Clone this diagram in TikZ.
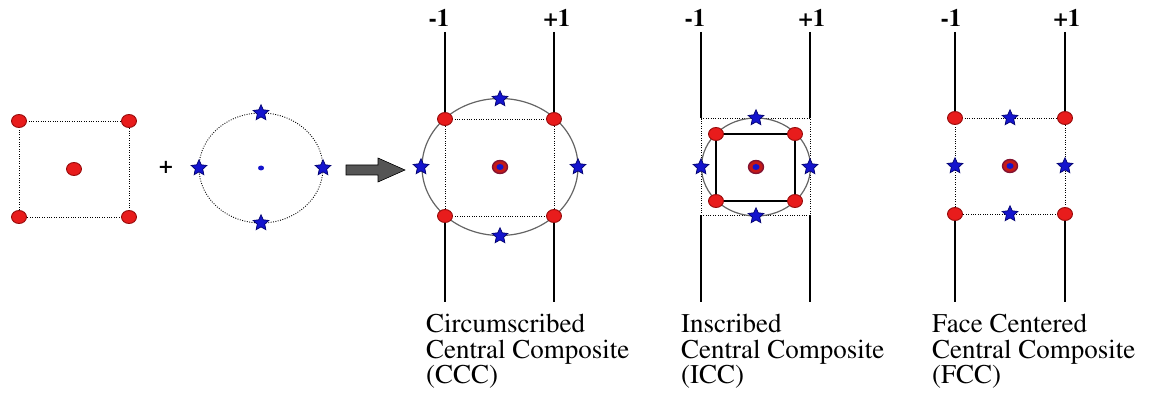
\documentclass[tikz,border=0pt]{standalone}
\usepackage[T1]{fontenc}
\usepackage{times}
\usetikzlibrary{shapes.geometric,backgrounds}

\definecolor{ptred}{RGB}{232,28,28}
\definecolor{ptredline}{RGB}{150,10,10}
\definecolor{ptblue}{RGB}{20,20,205}
\definecolor{ptblueline}{RGB}{0,0,110}
\definecolor{ptring}{RGB}{130,20,50}
\definecolor{arrowgray}{RGB}{85,85,85}
\definecolor{rimgray}{RGB}{100,100,100}

\tikzset{
  fpoint/.style={ellipse, fill=ptred, draw=ptredline, line width=0.9pt,
    minimum width=15pt, minimum height=13pt, inner sep=0pt},
  apoint/.style={star, star points=5, star point ratio=2.1, fill=ptblue,
    draw=ptblueline, line width=0.7pt, minimum size=16.5pt, inner sep=0pt},
  cpoint/.style={ellipse, fill=ptred!85!black, draw=ptring, line width=1.4pt,
    minimum width=15pt, minimum height=13pt, inner sep=0pt},
  ccore/.style={ellipse, fill=ptblue, minimum width=7pt, minimum height=6pt,
    inner sep=0pt},
  sdot/.style={ellipse, fill=ptblue, minimum width=6pt, minimum height=5pt,
    inner sep=0pt},
  level/.style={font=\fontsize{25}{25}\selectfont\bfseries, anchor=base,
    inner sep=0pt},
  caption/.style={font=\fontsize{27}{25.5}\selectfont, align=left,
    anchor=north west, inner sep=0pt},
  dotline/.style={line width=0.9pt, dash pattern=on 0.9pt off 1.5pt},
  axis/.style={line width=1.1pt},
  rim/.style={draw=rimgray, line width=1.2pt},
  frame/.style={line width=1.1pt},
}

\begin{document}
\begin{tikzpicture}[x=1pt, y=-1pt]
  \useasboundingbox (0,0) rectangle (1153,398);

  % ---------- factorial square ----------
  \node[fpoint] (sq-tl) at (19,121) {};
  \node[fpoint] (sq-tr) at (129,121) {};
  \node[fpoint] (sq-bl) at (19,217) {};
  \node[fpoint] (sq-br) at (129,217) {};
  \node[fpoint] (sq-c)  at (74,169) {};

  \node[font=\fontsize{24}{24}\selectfont\bfseries, inner sep=0pt] (plus) at (166,167) {+};

  % ---------- axial (star) points ----------
  \node[sdot]   (ax-c) at (261,168) {};
  \node[apoint] (ax-t) at (261,113) {};
  \node[apoint] (ax-b) at (261,223) {};
  \node[apoint] (ax-l) at (199,168) {};
  \node[apoint] (ax-r) at (323,168) {};

  % ---------- combining arrow ----------
  \filldraw[fill=arrowgray, draw=black, line width=0.6pt]
    (346,165) -- (378,165) -- (378,158) -- (405,170)
    -- (378,182) -- (378,175) -- (346,175) -- cycle;

  % ---------- CCC ----------
  \node[level] (ccc-m) at (439,27) {-1};
  \node[level] (ccc-p) at (557,27) {+1};
  \coordinate (ccc-top-l) at (445,32);
  \coordinate (ccc-top-r) at (554,32);
  \coordinate (ccc-bot-l) at (445,302);
  \coordinate (ccc-bot-r) at (554,302);
  \node[fpoint] (ccc-tl) at (445,119) {};
  \node[fpoint] (ccc-tr) at (554,119) {};
  \node[fpoint] (ccc-bl) at (445,216) {};
  \node[fpoint] (ccc-br) at (554,216) {};
  \node[apoint] (ccc-st) at (500,99) {};
  \node[apoint] (ccc-sb) at (500,236) {};
  \node[apoint] (ccc-sl) at (421,167) {};
  \node[apoint] (ccc-sr) at (578,167) {};
  \node[cpoint] (ccc-c) at (500,167) {};
  \node[ccore]  (ccc-cc) at (ccc-c) {};
  \node[caption] (ccc-txt) at (426,314)
    {Circumscribed\\Central Composite\\(CCC)};

  % ---------- ICC ----------
  \node[level] (icc-m) at (695,27) {-1};
  \node[level] (icc-p) at (812,27) {+1};
  \coordinate (icc-top-l) at (701,32);
  \coordinate (icc-top-r) at (810,32);
  \coordinate (icc-bot-l) at (701,302);
  \coordinate (icc-bot-r) at (810,302);
  \coordinate (icc-rtl) at (701,118);
  \coordinate (icc-rtr) at (810,118);
  \coordinate (icc-rbl) at (701,215);
  \coordinate (icc-rbr) at (810,215);
  \node[fpoint] (icc-tl) at (716,134) {};
  \node[fpoint] (icc-tr) at (795,134) {};
  \node[fpoint] (icc-bl) at (716,201) {};
  \node[fpoint] (icc-br) at (795,201) {};
  \node[apoint] (icc-st) at (756,118) {};
  \node[apoint] (icc-sb) at (756,216) {};
  \node[apoint] (icc-sl) at (701,167) {};
  \node[apoint] (icc-sr) at (810,167) {};
  \node[cpoint] (icc-c) at (756,167) {};
  \node[ccore]  (icc-cc) at (icc-c) {};
  \node[caption] (icc-txt) at (681,314)
    {Inscribed\\Central Composite\\(ICC)};

  % ---------- FCC ----------
  \node[level] (fcc-m) at (951,27) {-1};
  \node[level] (fcc-p) at (1067,27) {+1};
  \coordinate (fcc-top-l) at (955,32);
  \coordinate (fcc-top-r) at (1065,32);
  \coordinate (fcc-bot-l) at (955,302);
  \coordinate (fcc-bot-r) at (1065,302);
  \node[fpoint] (fcc-tl) at (955,118) {};
  \node[fpoint] (fcc-tr) at (1065,118) {};
  \node[fpoint] (fcc-bl) at (955,214) {};
  \node[fpoint] (fcc-br) at (1065,214) {};
  \node[apoint] (fcc-st) at (1010,118) {};
  \node[apoint] (fcc-sb) at (1010,214) {};
  \node[apoint] (fcc-sl) at (955,166) {};
  \node[apoint] (fcc-sr) at (1065,166) {};
  \node[cpoint] (fcc-c) at (1010,166) {};
  \node[ccore]  (fcc-cc) at (fcc-c) {};
  \node[caption] (fcc-txt) at (932,314)
    {Face Centered\\Central Composite\\(FCC)};

  % ---------- lines behind the points ----------
  \begin{scope}[on background layer]
    % factorial square
    \draw[dotline] (sq-tl.center) -- (sq-tr.center);
    \draw[dotline] (sq-tr.center) -- (sq-br.center);
    \draw[dotline] (sq-br.center) -- (sq-bl.center);
    \draw[dotline] (sq-bl.center) -- (sq-tl.center);
    % axial circle
    \draw[dotline] (ax-c) ellipse [x radius=62pt, y radius=55pt];

    % CCC
    \draw[rim] (ccc-c) ellipse [x radius=78pt, y radius=68.5pt];
    \draw[axis] (ccc-top-l) -- (ccc-tl.center);
    \draw[axis] (ccc-top-r) -- (ccc-tr.center);
    \draw[axis] (ccc-bl.center) -- (ccc-bot-l);
    \draw[axis] (ccc-br.center) -- (ccc-bot-r);
    \draw[dotline] (ccc-tl.center) -- (ccc-tr.center);
    \draw[dotline] (ccc-tr.center) -- (ccc-br.center);
    \draw[dotline] (ccc-br.center) -- (ccc-bl.center);
    \draw[dotline] (ccc-bl.center) -- (ccc-tl.center);

    % ICC
    \draw[axis] (icc-top-l) -- (icc-rtl);
    \draw[axis] (icc-top-r) -- (icc-rtr);
    \draw[axis] (icc-rbl) -- (icc-bot-l);
    \draw[axis] (icc-rbr) -- (icc-bot-r);
    \draw[dotline] (icc-rtl) -- (icc-rtr) -- (icc-rbr) -- (icc-rbl) -- cycle;
    \draw[rim] (icc-c) ellipse [x radius=54.5pt, y radius=49pt];
    \draw[frame] (icc-tl.center) -- (icc-tr.center);
    \draw[frame] (icc-tr.center) -- (icc-br.center);
    \draw[frame] (icc-br.center) -- (icc-bl.center);
    \draw[frame] (icc-bl.center) -- (icc-tl.center);

    % FCC
    \draw[axis] (fcc-top-l) -- (fcc-tl.center);
    \draw[axis] (fcc-top-r) -- (fcc-tr.center);
    \draw[axis] (fcc-bl.center) -- (fcc-bot-l);
    \draw[axis] (fcc-br.center) -- (fcc-bot-r);
    \draw[dotline] (fcc-tl.center) -- (fcc-tr.center);
    \draw[dotline] (fcc-tr.center) -- (fcc-br.center);
    \draw[dotline] (fcc-br.center) -- (fcc-bl.center);
    \draw[dotline] (fcc-bl.center) -- (fcc-tl.center);
  \end{scope}
\end{tikzpicture}
\end{document}
